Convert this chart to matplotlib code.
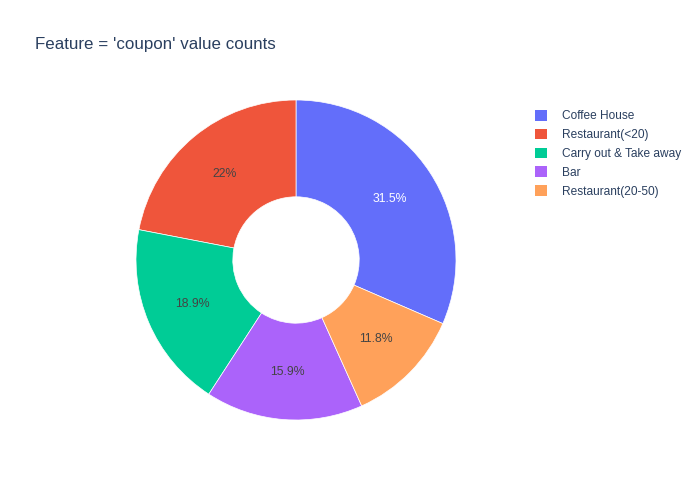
import matplotlib.pyplot as plt
from matplotlib.patches import Patch

plt.rcParams['font.family'] = ['Liberation Sans', 'DejaVu Sans']

labels = ['Coffee House', 'Restaurant(<20)', 'Carry out & Take away', 'Bar', 'Restaurant(20-50)']
counts = [3996, 2786, 2393, 2017, 1492]
colors = ['#636EFA', '#EF553B', '#00CC96', '#AB63FA', '#FFA15A']

total = sum(counts)
fig = plt.figure(figsize=(7, 5), dpi=100)
ax = fig.add_axes([136 / 700, 80 / 500, 320 / 700, 320 / 500])

start = 90 - counts[0] / total * 360
wedges, texts, autotexts = ax.pie(
    counts, colors=colors, startangle=start, counterclock=True,
    autopct=lambda p: '%.3g%%' % p, pctdistance=0.70,
    wedgeprops=dict(width=0.605, edgecolor='white', linewidth=0.5),
    textprops=dict(fontsize=8.8, color='#444444'))
autotexts[0].set_color('white')
ax.set_xlim(-1, 1)
ax.set_ylim(-1, 1)
ax.set_aspect('equal')

fig.text(35 / 700, 1 - 45 / 500, "Feature = 'coupon' value counts",
         fontsize=12.2, color='#2a3f5f', va='center', ha='left')

handles = [Patch(facecolor=c, edgecolor='none') for c in colors]
fig.legend(handles, labels, loc='upper left', bbox_to_anchor=(535 / 700, 1 - 110 / 500),
           frameon=False, fontsize=8.6, handlelength=1.0, handleheight=1.0,
           handletextpad=1.3, labelspacing=0.53, borderaxespad=0, borderpad=0,
           labelcolor='#2a3f5f')

fig.savefig('out.png', dpi=100)
